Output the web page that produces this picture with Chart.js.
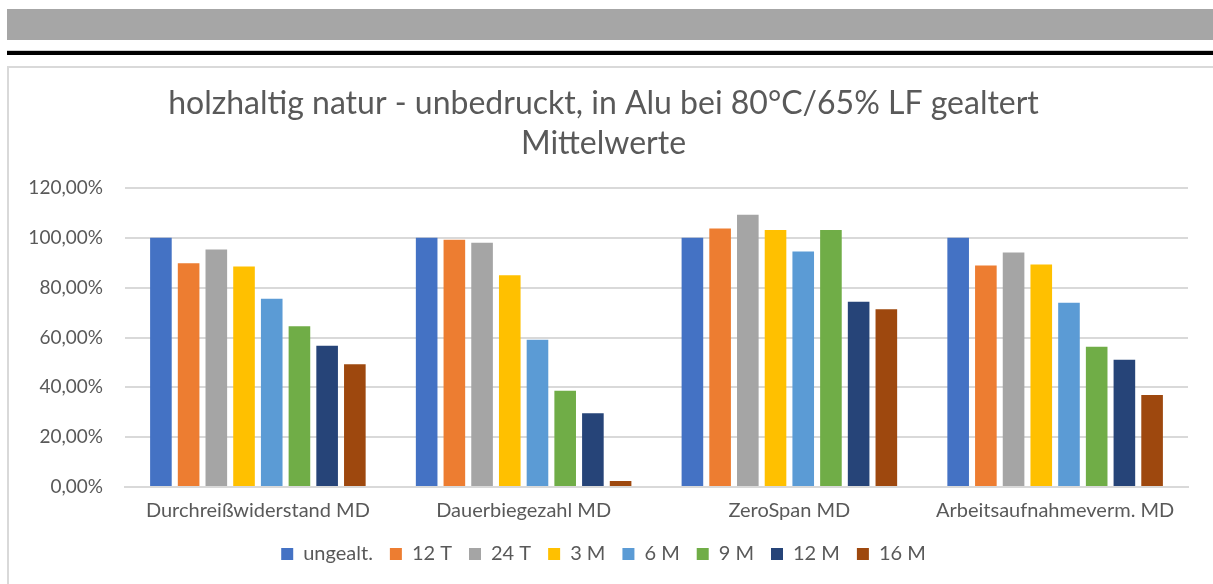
<!DOCTYPE html>
<html>
<head>
<meta charset="utf-8">
<script src="https://cdn.jsdelivr.net/npm/chart.js@4/dist/chart.umd.min.js"></script>
<style>
    html, body {
        margin: 0;
        padding: 0;
        background: #ffffff;
        width: 1213px;
        height: 584px;
        overflow: hidden;
        position: relative;
    }
    .topbar {
        position: absolute;
        left: 7px;
        top: 9px;
        width: 1206px;
        height: 31px;
        background: #a6a6a6;
    }
    .rule {
        position: absolute;
        left: 7px;
        top: 50px;
        width: 1206px;
        height: 4px;
        background: #000000;
        border-top: 1px solid #d0d0d0;
    }
    .card {
        position: absolute;
        left: 7px;
        top: 66px;
        width: 1220px;
        height: 540px;
        border-left: 2px solid #d9d9d9;
        border-top: 2px solid #d9d9d9;
        background: #ffffff;
    }
    .card canvas {
        position: absolute;
        left: 0;
        top: 0;
    }
</style>
</head>
<body>
<div class="topbar"></div>
<div class="rule"></div>
<div class="card">
    <canvas id="chart" width="1204" height="516"></canvas>
</div>
<script>
const categories = ['Durchreißwiderstand MD', 'Dauerbiegezahl MD', 'ZeroSpan MD', 'Arbeitsaufnahmeverm. MD'];
const seriesNames = ['ungealt.', '12 T', '24 T', '3 M', '6 M', '9 M', '12 M', '16 M'];
const seriesColors = ['#4472C4', '#ED7D31', '#A5A5A5', '#FFC000', '#5B9BD5', '#70AD47', '#264478', '#9E480E'];

// Werte in Prozent, je Kategorie
const ungealt = [100.0, 100.0, 100.0, 100.0];
const t12 = [89.8, 99.2, 103.7, 88.9];
const t24 = [95.3, 98.0, 109.3, 94.1];
const m3 = [88.5, 85.0, 103.1, 89.3];
const m6 = [75.6, 59.1, 94.5, 73.9];
const m9 = [64.5, 38.6, 103.1, 56.3];
const m12 = [56.7, 29.6, 74.3, 51.1];
const m16 = [49.3, 2.4, 71.3, 36.9];

const yTicks = [0, 20, 40, 60, 80, 100, 120];

const chartTitle = ['holzhaltig natur - unbedruckt, in Alu bei 80°C/65% LF gealtert', 'Mittelwerte'];

const seriesValues = [ungealt, t12, t24, m3, m6, m9, m12, m16];
const textColor = '#595959';
const gridColor = '#d9d9d9';
const fontFamily = 'Lato, "Open Sans", sans-serif';

function formatPercent(v) {
    return v.toFixed(2).replace('.', ',') + '%';
}

document.addEventListener('DOMContentLoaded', function () {
    const ctx = document.getElementById('chart').getContext('2d');

    new Chart(ctx, {
        type: 'bar',
        data: {
            labels: categories,
            datasets: seriesNames.map((name, i) => ({
                label: name,
                data: seriesValues[i],
                backgroundColor: seriesColors[i],
                borderWidth: 0,
                barPercentage: 0.78,
                categoryPercentage: 0.834
            }))
        },
        options: {
            responsive: false,
            animation: false,
            layout: {
                padding: { left: 10, right: 25, top: 2, bottom: 10 }
            },
            plugins: {
                title: {
                    display: true,
                    text: chartTitle,
                    color: textColor,
                    font: { family: fontFamily, size: 32, weight: 'normal', lineHeight: 1.25 },
                    padding: { top: 14, bottom: 24 }
                },
                legend: {
                    position: 'bottom',
                    labels: {
                        color: textColor,
                        boxWidth: 12,
                        boxHeight: 12,
                        padding: 17,
                        font: { family: fontFamily, size: 20 }
                    }
                },
                tooltip: { enabled: false }
            },
            scales: {
                x: {
                    grid: { display: false, drawTicks: false },
                    border: { color: gridColor, width: 2 },
                    ticks: {
                        color: textColor,
                        padding: 12,
                        font: { family: fontFamily, size: 20 }
                    },
                    afterFit: function (scale) {
                        scale.height = 40;
                    }
                },
                y: {
                    min: 0,
                    max: 120,
                    afterBuildTicks: function (scale) {
                        scale.ticks = yTicks.map(v => ({ value: v }));
                    },
                    grid: { color: gridColor, lineWidth: 2, drawTicks: false },
                    border: { display: false },
                    ticks: {
                        color: textColor,
                        padding: 22,
                        font: { family: fontFamily, size: 19 },
                        callback: function (value) {
                            return formatPercent(value);
                        }
                    },
                    afterFit: function (scale) {
                        scale.width = 106;
                    }
                }
            }
        }
    });
});
</script>
</body>
</html>
